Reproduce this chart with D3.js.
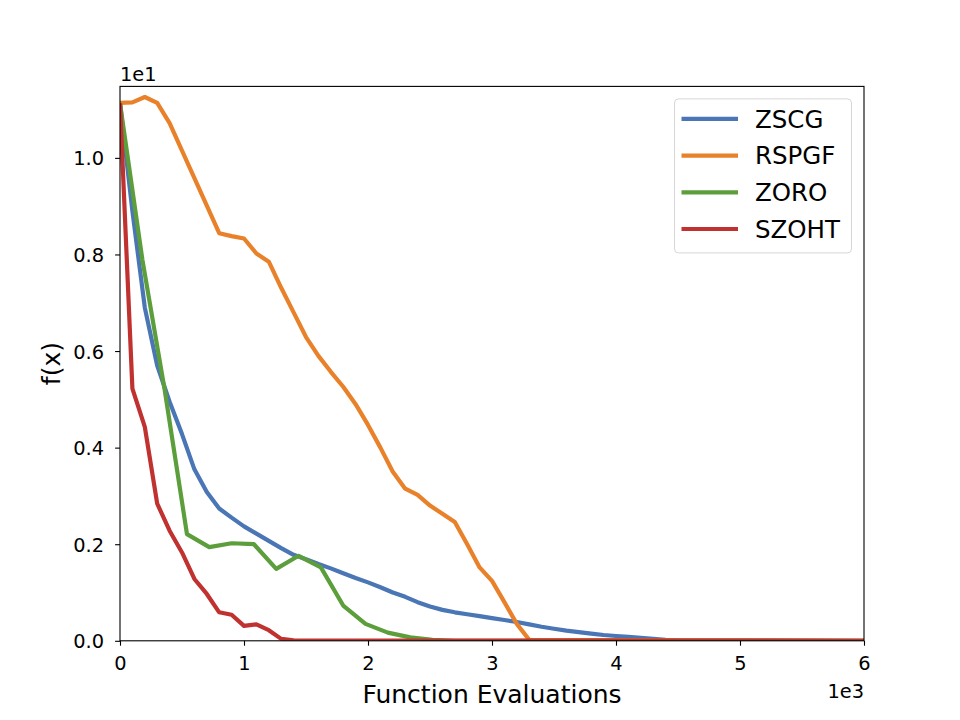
<!DOCTYPE html>
<html>
<head>
<meta charset="utf-8">
<script src="https://cdn.jsdelivr.net/npm/d3@7"></script>
<style>
  body { margin: 0; background: #fff; }
  text { font-family: "DejaVu Sans", sans-serif; fill: #000; }
</style>
</head>
<body>
<div id="chart"></div>
<script>
// series names and colours
const seriesNames = ['ZSCG', 'RSPGF', 'ZORO', 'SZOHT'];
const seriesColors = ['#4a76b5', '#e8812a', '#5c9e3c', '#c0322f'];

// function evaluations (x) for each series
const evalsZSCG = [0, 100, 200, 300, 400, 500, 600, 700, 800, 900, 1000, 1100, 1200, 1300, 1400,
  1500, 1600, 1700, 1800, 1900, 2000, 2100, 2200, 2300, 2400, 2500, 2600, 2700, 2800, 2900,
  3000, 3100, 3200, 3300, 3400, 3500, 3600, 3700, 3800, 3900, 4000, 4100, 4200, 4300, 4400,
  4500, 6000];
const evalsRSPGF = [0, 100, 200, 300, 400, 500, 600, 700, 800, 900, 1000, 1100, 1200, 1300, 1400,
  1500, 1600, 1700, 1800, 1900, 2000, 2100, 2200, 2300, 2400, 2500, 2600, 2700, 2800, 2900,
  3000, 3100, 3200, 3300, 6000];
const evalsZORO = [0, 180, 360, 540, 720, 900, 1080, 1260, 1440, 1620, 1800, 1980, 2160, 2340,
  2520, 2700, 6000];
const evalsSZOHT = [0, 100, 200, 300, 400, 500, 600, 700, 800, 900, 1000, 1100, 1200, 1300, 1400, 6000];

// f(x) values, in units of 1e1
const fZSCG = [1.113, 0.89, 0.69, 0.57, 0.495, 0.428, 0.355, 0.308, 0.274, 0.255, 0.237, 0.222,
  0.207, 0.192, 0.178, 0.169, 0.159, 0.15, 0.14, 0.13, 0.121, 0.111, 0.1, 0.091, 0.08, 0.071,
  0.064, 0.059, 0.055, 0.051, 0.047, 0.043, 0.039, 0.034, 0.029, 0.025, 0.021, 0.018, 0.015,
  0.012, 0.01, 0.008, 0.006, 0.004, 0.002, 0.001, 0];
const fRSPGF = [1.114, 1.115, 1.126, 1.114, 1.072, 1.015, 0.958, 0.901, 0.844, 0.838, 0.833,
  0.802, 0.785, 0.731, 0.68, 0.629, 0.59, 0.557, 0.526, 0.49, 0.447, 0.4, 0.35, 0.315, 0.302,
  0.28, 0.263, 0.246, 0.2, 0.152, 0.124, 0.08, 0.035, 0.002, 0];
const fZORO = [1.113, 0.79, 0.52, 0.221, 0.194, 0.202, 0.2, 0.149, 0.176, 0.152, 0.073, 0.035,
  0.017, 0.007, 0.002, 0, 0];
const fSZOHT = [1.113, 0.522, 0.443, 0.284, 0.228, 0.183, 0.128, 0.097, 0.059, 0.054, 0.031,
  0.034, 0.022, 0.004, 0.001, 0];

// tick labels
const xTicks = [0, 1000, 2000, 3000, 4000, 5000, 6000];
const xTickLabels = ['0', '1', '2', '3', '4', '5', '6'];
const yTicks = [0, 0.2, 0.4, 0.6, 0.8, 1.0];
const yTickLabels = ['0.0', '0.2', '0.4', '0.6', '0.8', '1.0'];

const series = [
  { name: seriesNames[0], color: seriesColors[0], x: evalsZSCG, y: fZSCG },
  { name: seriesNames[1], color: seriesColors[1], x: evalsRSPGF, y: fRSPGF },
  { name: seriesNames[2], color: seriesColors[2], x: evalsZORO, y: fZORO },
  { name: seriesNames[3], color: seriesColors[3], x: evalsSZOHT, y: fSZOHT }
];

const W = 960, H = 720;
const margin = { top: 86.4, right: 96, bottom: 79.2, left: 120 };
const width = W - margin.left - margin.right;
const height = H - margin.top - margin.bottom;
const tickFont = '19.4px';
const labelFont = '25px';

const svg = d3.select('#chart').append('svg')
  .attr('width', W)
  .attr('height', H);

const g = svg.append('g')
  .attr('transform', `translate(${margin.left},${margin.top})`);

const xScale = d3.scaleLinear().domain([0, 6000]).range([0, width]);
const yScale = d3.scaleLinear().domain([0, 1.148]).range([height, 0]);

g.append('clipPath').attr('id', 'plot-clip')
  .append('rect').attr('width', width).attr('height', height);

const line = d3.line()
  .x(d => xScale(d[0]))
  .y(d => yScale(d[1]));

g.append('g').attr('clip-path', 'url(#plot-clip)')
  .selectAll('path')
  .data(series)
  .join('path')
  .attr('fill', 'none')
  .attr('stroke', d => d.color)
  .attr('stroke-width', 4.2)
  .attr('stroke-linejoin', 'round')
  .attr('stroke-linecap', 'butt')
  .attr('d', d => line(d.x.map((v, i) => [v, d.y[i]])));

// axes
const xAxis = d3.axisBottom(xScale)
  .tickValues(xTicks)
  .tickFormat((d, i) => xTickLabels[i])
  .tickSize(4.9)
  .tickPadding(10.5);
const yAxis = d3.axisLeft(yScale)
  .tickValues(yTicks)
  .tickFormat((d, i) => yTickLabels[i])
  .tickSize(4.9)
  .tickPadding(11);

const xAxisG = g.append('g')
  .attr('transform', `translate(0,${height})`)
  .call(xAxis);
const yAxisG = g.append('g').call(yAxis);

[xAxisG, yAxisG].forEach(a => {
  a.select('.domain').remove();
  a.selectAll('.tick line').attr('stroke', '#000').attr('stroke-width', 1.1);
  a.selectAll('.tick text')
    .style('font-family', '"DejaVu Sans", sans-serif')
    .style('font-size', tickFont)
    .attr('fill', '#000');
});
xAxisG.selectAll('.tick text').attr('dy', '0.71em');
yAxisG.selectAll('.tick text').attr('dy', '0.36em');

// frame (spines)
g.append('rect')
  .attr('width', width)
  .attr('height', height)
  .attr('fill', 'none')
  .attr('stroke', '#000')
  .attr('stroke-width', 1.1);

// offset texts
g.append('text')
  .attr('x', 0)
  .attr('y', -5.7)
  .style('font-size', tickFont)
  .text('1e1');
g.append('text')
  .attr('x', width)
  .attr('y', height + 57.5)
  .attr('text-anchor', 'end')
  .style('font-size', tickFont)
  .text('1e3');

// axis labels
g.append('text')
  .attr('x', width / 2)
  .attr('y', height + 62.5)
  .attr('text-anchor', 'middle')
  .style('font-size', labelFont)
  .text('Function Evaluations');
g.append('text')
  .attr('transform', `translate(-60.5,${height / 2}) rotate(-90)`)
  .attr('text-anchor', 'middle')
  .style('font-size', labelFont)
  .text('f(x)');

// legend
const legend = g.append('g')
  .attr('transform', `translate(${width - 189.5},${12.5})`);
legend.append('rect')
  .attr('width', 177)
  .attr('height', 154)
  .attr('rx', 4)
  .attr('fill', '#fff')
  .attr('fill-opacity', 0.8)
  .attr('stroke', '#d6d6d6')
  .attr('stroke-width', 1);

const legendItems = legend.selectAll('.legend-item')
  .data(series)
  .join('g')
  .attr('class', 'legend-item')
  .attr('transform', (d, i) => `translate(0,${20 + i * 36.7})`);
legendItems.append('line')
  .attr('x1', 7)
  .attr('x2', 63.5)
  .attr('stroke', d => d.color)
  .attr('stroke-width', 4.2);
legendItems.append('text')
  .attr('x', 80.5)
  .attr('dy', '0.36em')
  .style('font-size', '24.5px')
  .text(d => d.name);
</script>
</body>
</html>
